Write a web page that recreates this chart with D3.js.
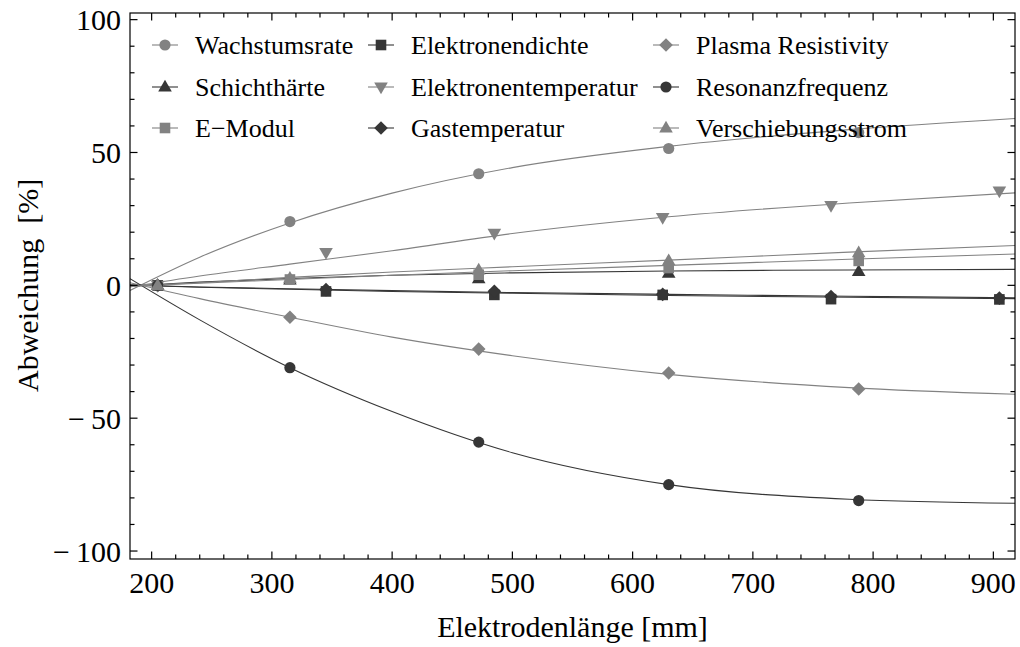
<!DOCTYPE html>
<html>
<head>
<meta charset="utf-8">
<script src="https://cdn.jsdelivr.net/npm/d3@7"></script>
<style>
  body { margin: 0; background: #fff; }
  svg { display: block; }
  text { font-family: "Liberation Serif", "Times New Roman", serif; fill: #000; }
</style>
</head>
<body>
<svg id="chart" width="1020" height="647"></svg>
<script>
// Electrode lengths at which each series was measured (mm)
const lengthsA = [205, 315, 472, 630, 788];
const lengthsB = [205, 345, 485, 625, 765, 905];

// Measured deviation (%) per quantity
const wachstumsrate        = [0, 24, 42, 51.5, 57.5];
const schichthaerte        = [0, 2, 2.5, 4.6, 5.2];
const eModul               = [0, 2.2, 4, 6.5, 9.2];
const elektronendichte     = [0, -2.3, -3.6, -3.6, -5.2, -5.3];
const elektronentemperatur = [0, 12.3, 19.6, 25.5, 30, 35.5];
const gastemperatur        = [0, -1.6, -2.2, -3.4, -4.2, -4.8];
const plasmaResistivity    = [0, -12, -24, -33, -39];
const resonanzfrequenz     = [0, -31, -59, -75, -81];
const verschiebungsstrom   = [0, 2.7, 5.8, 9.3, 12.3];

// Fitted trend curves, sampled along the electrode length
const fitLengths = [182, 240, 315, 400, 500, 630, 780, 918];
const fitWachstumsrate        = [-1.9, 10.6, 23.5, 34.7, 44.3, 52.3, 58.6, 62.8];
const fitSchichthaerte        = [-0.3, 1.2, 2.6, 3.8, 4.7, 5.4, 5.8, 6.0];
const fitEModul               = [-0.3, 0.8, 2.2, 3.8, 5.5, 7.5, 9.8, 11.8];
const fitElektronendichte     = [0.1, -0.7, -1.5, -2.3, -3.0, -3.8, -4.5, -5.0];
const fitElektronentemperatur = [-0.6, 3.5, 8, 13, 19.5, 25.8, 31, 34.8];
const fitGastemperatur        = [0.1, -0.6, -1.3, -2.0, -2.7, -3.4, -4.1, -4.7];
const fitPlasmaResistivity    = [1.0, -5, -12, -19.5, -26.5, -33.5, -38.5, -41];
const fitResonanzfrequenz     = [2.5, -13, -31, -47.5, -63, -75, -80.5, -82];
const fitVerschiebungsstrom   = [-0.4, 1, 3, 5, 7, 9.5, 12.5, 15];

const xTicks = [200, 300, 400, 500, 600, 700, 800, 900];
const yTicks = [-100, -50, 0, 50, 100];

const GREY = "#828282", DARK = "#363636";

const series = [
  { name: "Wachstumsrate",        xs: lengthsA, ys: wachstumsrate,        fit: fitWachstumsrate,        color: GREY, shape: "circle" },
  { name: "Schichthärte",         xs: lengthsA, ys: schichthaerte,        fit: fitSchichthaerte,        color: DARK, shape: "triangle" },
  { name: "E\u2212Modul",         xs: lengthsA, ys: eModul,               fit: fitEModul,               color: GREY, shape: "square" },
  { name: "Elektronendichte",     xs: lengthsB, ys: elektronendichte,     fit: fitElektronendichte,     color: DARK, shape: "square" },
  { name: "Elektronentemperatur", xs: lengthsB, ys: elektronentemperatur, fit: fitElektronentemperatur, color: GREY, shape: "down" },
  { name: "Gastemperatur",        xs: lengthsB, ys: gastemperatur,        fit: fitGastemperatur,        color: DARK, shape: "diamond" },
  { name: "Plasma Resistivity",   xs: lengthsA, ys: plasmaResistivity,    fit: fitPlasmaResistivity,    color: GREY, shape: "diamond" },
  { name: "Resonanzfrequenz",     xs: lengthsA, ys: resonanzfrequenz,     fit: fitResonanzfrequenz,     color: DARK, shape: "circle" },
  { name: "Verschiebungsstrom",   xs: lengthsA, ys: verschiebungsstrom,   fit: fitVerschiebungsstrom,   color: GREY, shape: "triangle" }
];

const svg = d3.select("#chart");
const plot = { left: 130, right: 1015, top: 13, bottom: 559 };

const x = d3.scaleLinear().domain([182, 918]).range([plot.left, plot.right]);
const y = d3.scaleLinear().domain([-103, 102.5]).range([plot.bottom, plot.top]);

// Marker path generator, centred on the origin
function markerPath(shape) {
  switch (shape) {
    case "circle": return d3.symbol(d3.symbolCircle, Math.PI * 5.6 * 5.6)();
    case "square": return "M-5.3,-5.3H5.3V5.3H-5.3Z";
    case "triangle": return "M0,-7.2L6.8,4.6L-6.8,4.6Z";
    case "down": return "M0,7.2L6.8,-4.6L-6.8,-4.6Z";
    case "diamond": return "M0,-6.8L6.8,0L0,6.8L-6.8,0Z";
  }
}

svg.append("defs").append("clipPath").attr("id", "plotClip")
  .append("rect")
  .attr("x", plot.left).attr("y", plot.top)
  .attr("width", plot.right - plot.left).attr("height", plot.bottom - plot.top);

// Fit curves
const line = d3.line().x(d => x(d[0])).y(d => y(d[1])).curve(d3.curveMonotoneX);
const curves = svg.append("g").attr("clip-path", "url(#plotClip)");
series.forEach(s => {
  curves.append("path")
    .attr("d", line(fitLengths.map((l, i) => [l, s.fit[i]])))
    .attr("fill", "none")
    .attr("stroke", s.color)
    .attr("stroke-width", 1.1);
});

// Measured points
const points = svg.append("g").attr("clip-path", "url(#plotClip)");
series.forEach(s => {
  points.selectAll(null)
    .data(s.xs.map((l, i) => [l, s.ys[i]]))
    .join("path")
    .attr("d", markerPath(s.shape))
    .attr("transform", d => `translate(${x(d[0])},${y(d[1])})`)
    .attr("fill", s.color);
});

// Frame with inward ticks on all four sides
const frame = svg.append("g");
const xMinor = d3.range(200, 920, 20).filter(v => v % 100 !== 0 && v >= 182 && v <= 918);
const yMinor = d3.range(-100, 101, 10).filter(v => v % 50 !== 0);

function drawTicks(scale, vals, len, orient) {
  vals.forEach(v => {
    const p = scale(v);
    if (orient === "bottom") frame.append("line").attr("x1", p).attr("x2", p).attr("y1", plot.bottom).attr("y2", plot.bottom - len);
    if (orient === "top") frame.append("line").attr("x1", p).attr("x2", p).attr("y1", plot.top).attr("y2", plot.top + len);
    if (orient === "left") frame.append("line").attr("y1", p).attr("y2", p).attr("x1", plot.left).attr("x2", plot.left + len);
    if (orient === "right") frame.append("line").attr("y1", p).attr("y2", p).attr("x1", plot.right).attr("x2", plot.right - len);
  });
}
["bottom", "top"].forEach(o => { drawTicks(x, xTicks, 7.5, o); drawTicks(x, xMinor, 4.5, o); });
["left", "right"].forEach(o => { drawTicks(y, yTicks, 7.5, o); drawTicks(y, yMinor, 4.5, o); });
frame.append("rect")
  .attr("x", plot.left).attr("y", plot.top)
  .attr("width", plot.right - plot.left).attr("height", plot.bottom - plot.top)
  .attr("fill", "none");
frame.selectAll("line, rect").attr("stroke", "#000").attr("stroke-width", 1.2);

// Tick labels
const fmt = v => v < 0 ? "\u2212\u2009" + Math.abs(v) : String(v);
svg.append("g").selectAll("text").data(xTicks).join("text")
  .attr("x", d => x(d)).attr("y", 593)
  .attr("text-anchor", "middle").attr("font-size", 30)
  .text(d => d);
svg.append("g").selectAll("text").data(yTicks).join("text")
  .attr("x", 121).attr("y", d => y(d) + 10.5)
  .attr("text-anchor", "end").attr("font-size", 30)
  .text(fmt);

// Axis titles
svg.append("text")
  .attr("x", (plot.left + plot.right) / 2).attr("y", 637)
  .attr("text-anchor", "middle").attr("font-size", 30)
  .text("Elektrodenlänge [mm]");
svg.append("text")
  .attr("transform", `translate(38,${y(0)}) rotate(-90)`)
  .attr("text-anchor", "middle").attr("font-size", 30)
  .attr("xml:space", "preserve")
  .text("Abweichung  [%]");

// Legend: three columns, filled column by column
const legendCols = [152, 368, 653];
const legendRows = [45, 87, 128];
const legend = svg.append("g");
series.forEach((s, i) => {
  const cx = legendCols[Math.floor(i / 3)];
  const cy = legendRows[i % 3];
  const g = legend.append("g").attr("transform", `translate(${cx},${cy})`);
  g.append("line").attr("x1", 0).attr("x2", 26).attr("y1", 0).attr("y2", 0)
    .attr("stroke", s.color).attr("stroke-width", 1.1);
  g.append("path").attr("d", markerPath(s.shape)).attr("transform", "translate(13,0)").attr("fill", s.color);
  g.append("text").attr("x", 43).attr("y", 8.5).attr("font-size", 26).text(s.name);
});
</script>
</body>
</html>
